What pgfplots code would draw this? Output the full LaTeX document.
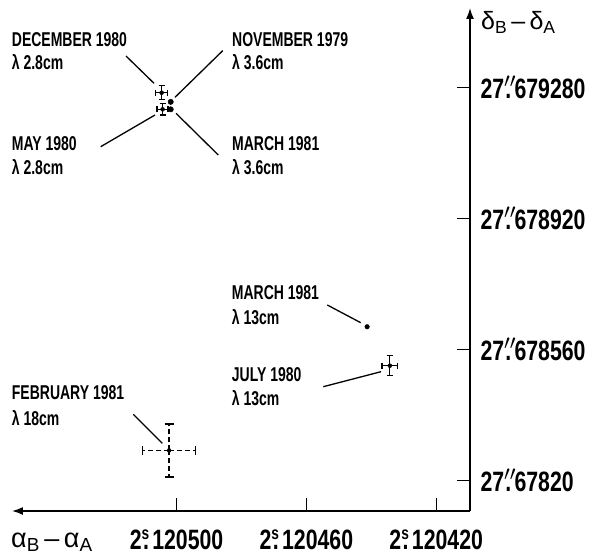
\documentclass[border=0pt]{standalone}
\usepackage{fontspec}
\setmainfont{Liberation Sans}[FakeStretch=0.7]
\newfontfamily\tickfont{Liberation Sans}[FakeStretch=0.76]
\newfontfamily\labfont{Liberation Sans}
\usepackage{pgfplots}
\pgfplotsset{compat=1.18}
\usetikzlibrary{arrows.meta}
\newcommand\ra[1]{2\rlap{\raisebox{0.7ex}{\fontsize{18}{18}\selectfont s}}\kern0.05em.\kern0.12em#1}
\newcommand\de[1]{27\rlap{\raisebox{0.1ex}{$^{\prime\prime}$}}\kern0.04em.\kern0.12em#1}
\begin{document}
\begin{tikzpicture}
\path[use as bounding box] (-12pt,-43pt) rectangle (579pt,511pt);
\begin{axis}[at={(0,0)}, anchor=south west, scale only axis,
  width=458pt, height=503pt, x dir=reverse,
  xmin=120409.6, xmax=120550.7, ymin=678115.7, ymax=679497.9,
  scaled ticks=false,
  axis x line=bottom, axis y line=right,
  axis line style={line width=1.5pt, -{Latex[length=11pt,width=8pt]}},
  tick align=inside, major tick length=13pt,
  tick style={line width=1.4pt, black},
  xtick={120500,120460,120420},
  xticklabels={\ra{120500},\ra{120460},\ra{120420}},
  ytick={679280,678920,678560,678200},
  yticklabels={\de{679280},\de{678920},\de{678560},\de{67820}},
  ticklabel style={font=\fontsize{28}{30}\tickfont\bfseries},
  x tick label style={yshift=-15pt},
  y tick label style={xshift=7pt},
  clip=false]
\addplot[black, only marks, mark=none,
  error bars/.cd, x dir=both, x explicit, y dir=both, y explicit,
  error bar style={line width=1.3pt},
  error mark options={rotate=90, mark size=3pt, line width=1.3pt, black}]
  coordinates {
  (120504.6,679265) +- (1.9,19)
  (120504.3,679219.5) +- (1.7,16)
  (120434.3,678515) +- (2.4,27.5)
  };
\addplot[black, only marks, mark=none,
  error bars/.cd, x dir=both, x explicit, y dir=both, y explicit,
  error bar style={line width=1.3pt, dash pattern=on 5pt off 3pt},
  error mark options={rotate=90, solid, mark size=4.5pt, line width=1.3pt, black}]
  coordinates {(120502.3,678282) +- (8.2,73)};
\addplot[black, only marks, mark=*, mark size=2.7pt]
  coordinates {(120501.8,679240) (120501.8,679219.5)};
\addplot[black, only marks, mark=*, mark size=2.3pt]
  coordinates {(120441.3,678622)};
\end{axis}
\begin{scope}[shift={(-12pt,511pt)}, x=1pt, y=-1pt,
  font=\fontsize{20}{22}\selectfont\bfseries,
  every node/.style={anchor=base west, inner sep=0pt}]
\node at (11.7,47) {DECEMBER 1980};
\node at (11.7,70) {λ 2.8cm};
\node at (232,47) {NOVEMBER 1979};
\node at (232,70) {λ 3.6cm};
\node at (11.7,150.5) {MAY 1980};
\node at (11.7,174.5) {λ 2.8cm};
\node at (232,150.5) {MARCH 1981};
\node at (232,174.5) {λ 3.6cm};
\node at (231.7,299.5) {MARCH 1981};
\node at (231.7,324.5) {λ 13cm};
\node at (231.7,381.5) {JULY 1980};
\node at (231.7,405.5) {λ 13cm};
\node at (11.7,399.5) {FEBRUARY 1981};
\node at (11.7,425.5) {λ 18cm};
\draw[line width=1.3pt] (126,56)--(154,83.3);
\draw[line width=1.3pt] (222.7,50.7)--(175,97.3);
\draw[line width=1.3pt] (100.7,146.7)--(155,115);
\draw[line width=1.3pt] (176,113.3)--(218.3,155);
\draw[line width=1.3pt] (327.3,305)--(360.7,322.7);
\draw[line width=1.3pt] (323.3,386.7)--(381,371.7);
\draw[line width=1.3pt] (133.3,414.3)--(162.3,443.3);
\node[font=\fontsize{27}{29}\labfont] at (11,547) {α\textsubscript{B}\,–\,α\textsubscript{A}};
\node[font=\fontsize{25}{27}\labfont] at (481,30) {δ\textsubscript{B}\,–\,δ\textsubscript{A}};
\end{scope}
\end{tikzpicture}
\end{document}
